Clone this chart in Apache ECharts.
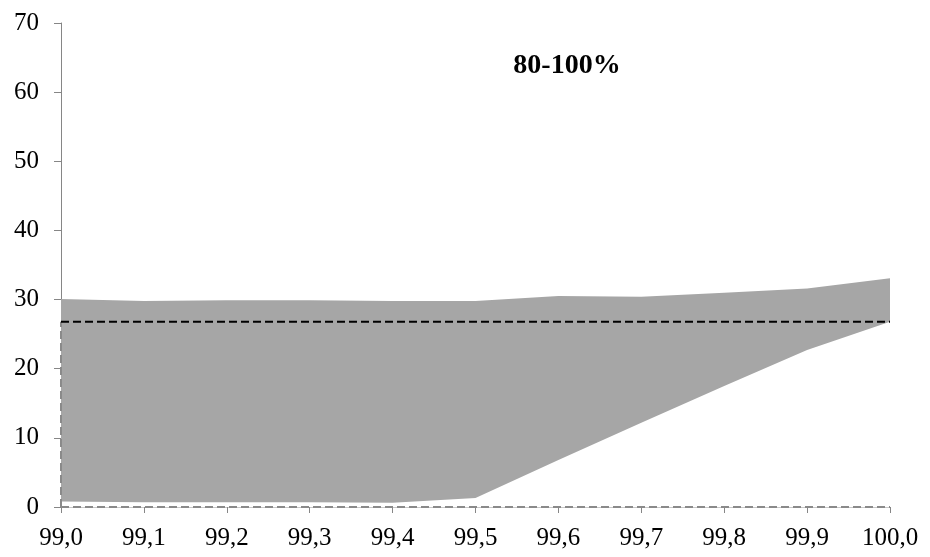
<!DOCTYPE html>
<html>
<head>
<meta charset="utf-8">
<script src="https://cdn.jsdelivr.net/npm/echarts@6/dist/echarts.min.js"></script>
<style>
html,body{margin:0;padding:0;background:#fff;}
#chart{width:930px;height:557px;}
</style>
</head>
<body>
<div id="chart"></div>
<script>
// Percentile positions along the x axis
const xValues = [99.0, 99.1, 99.2, 99.3, 99.4, 99.5, 99.6, 99.7, 99.8, 99.9, 100.0];
// Upper and lower bounds of the shaded band
const upperBound = [30.1, 29.8, 29.9, 29.9, 29.8, 29.8, 30.5, 30.4, 31.0, 31.6, 33.1];
const lowerBound = [0.8, 0.7, 0.7, 0.7, 0.6, 1.3, 6.8, 12.2, 17.5, 22.7, 26.8];
// Reference level (dashed)
const refLevel = 26.8;
const titleText = '80-100%';

const font = 'Liberation Serif, Times New Roman, serif';
const chart = echarts.init(document.getElementById('chart'), null, {renderer: 'canvas'});

// Band polygon: upper bound left to right, then lower bound right to left
function renderBand(params, api) {
  if (params.dataIndex !== 0) return null;
  const pts = [];
  for (let i = 0; i < xValues.length; i++) pts.push(api.coord([xValues[i], upperBound[i]]));
  for (let i = xValues.length - 1; i >= 0; i--) pts.push(api.coord([xValues[i], lowerBound[i]]));
  return {
    type: 'polygon',
    shape: {points: pts},
    style: {fill: '#a6a6a6', stroke: null}
  };
}

chart.setOption({
  animation: false,
  backgroundColor: '#fff',
  title: {
    text: titleText,
    left: 562, top: 47, textAlign: 'center',
    textStyle: {fontFamily: font, fontWeight: 'bold', fontSize: 28, color: '#000'}
  },
  grid: {left: 61, right: 40, top: 23, bottom: 50},
  xAxis: {
    type: 'value', min: 99, max: 100, interval: 0.1,
    axisLine: {show: true, lineStyle: {color: '#c8c8c8', width: 1}},
    axisTick: {show: true, length: 6, lineStyle: {color: '#868686'}},
    splitLine: {show: false},
    axisLabel: {
      fontFamily: font, fontSize: 25, color: '#000', margin: 19,
      formatter: v => v.toFixed(1).replace('.', ',')
    }
  },
  yAxis: {
    type: 'value', min: 0, max: 70, interval: 10,
    axisLine: {show: true, lineStyle: {color: '#868686', width: 1}},
    axisTick: {show: true, length: 7, lineStyle: {color: '#868686'}},
    splitLine: {show: false},
    axisLabel: {fontFamily: font, fontSize: 25, color: '#000', margin: 22}
  },
  series: [
    {
      type: 'custom', renderItem: renderBand,
      data: xValues.map((x, i) => [x, upperBound[i], lowerBound[i]]),
      encode: {x: 0, y: [1, 2]}, silent: true, z: 2
    },
    {
      type: 'line', data: [[99, refLevel], [100, refLevel]], symbol: 'none',
      lineStyle: {color: '#000', width: 2, type: [8, 4]}, z: 4
    },
    {
      type: 'line', data: [[99, 0], [99, refLevel]], symbol: 'none',
      lineStyle: {color: '#8a8a8a', width: 2, type: [8, 4]}, z: 3
    },
    {
      type: 'line', data: [[99, 0], [100, 0]], symbol: 'none',
      lineStyle: {color: '#8a8a8a', width: 2, type: [8, 4]}, z: 3
    }
  ]
});
</script>
</body>
</html>
